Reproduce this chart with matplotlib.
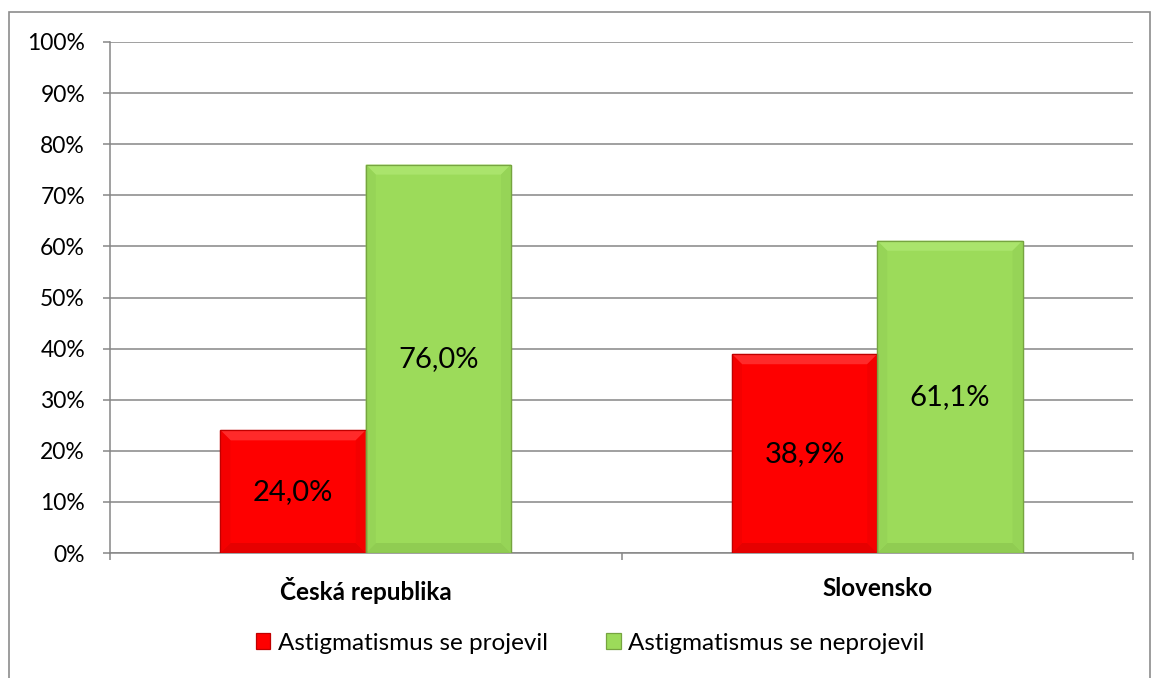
import matplotlib
matplotlib.use("Agg")
import matplotlib.pyplot as plt
from matplotlib.patches import Rectangle, Polygon
from matplotlib.ticker import FuncFormatter
import numpy as np

categories = ["Česká republika", "Slovensko"]
series_names = ["Astigmatismus se projevil", "Astigmatismus se neprojevil"]
projevil = [24.0, 38.9]
neprojevil = [76.0, 61.1]
y_ticks = [0, 10, 20, 30, 40, 50, 60, 70, 80, 90, 100]

FONT = "Lato"
plt.rcParams["font.family"] = [FONT, "DejaVu Sans"]

W, H = 1152, 678
fig = plt.figure(figsize=(W / 100, H / 100), dpi=100)

# outer chart border
fig.patches.append(Rectangle((9 / W, -0.05), (1150 - 9) / W, 1 - 12 / H + 0.05,
                             transform=fig.transFigure, fill=False,
                             edgecolor="#8c8c8c", lw=1.2))

ax_w_px, ax_h_px = 1133 - 110, 553 - 42
ax = fig.add_axes([110 / W, 1 - 553 / H, ax_w_px / W, ax_h_px / H])

x = np.arange(len(categories))
bw = 0.284
styles = [
    dict(face="#fe0000", edge="#c00000", top="#ff2a2a", bottom="#e60000", side="#f40000"),
    dict(face="#9cdb5a", edge="#76a440", top="#aae46c", bottom="#90cc52", side="#96d457"),
]

ax.set_xlim(-0.5, 1.5)
ax.set_ylim(0, 100)

bars_all = []
for i, (vals, st) in enumerate(zip((projevil, neprojevil), styles)):
    offs = -bw / 2 if i == 0 else bw / 2
    b = ax.bar(x + offs, vals, bw, color=st["face"], edgecolor=st["edge"], lw=0.9,
               label=series_names[i], zorder=3)
    bars_all.append(b)
    # bevel effect
    bx = 10 / ax_w_px * 2.0
    by = 10 / ax_h_px * 100.0
    for rect in b:
        x0, w = rect.get_x(), rect.get_width()
        h = rect.get_height()
        x1 = x0 + w
        polys = [
            ([(x0, h), (x1, h), (x1 - bx, h - by), (x0 + bx, h - by)], st["top"]),
            ([(x0, 0), (x1, 0), (x1 - bx, by), (x0 + bx, by)], st["bottom"]),
            ([(x0, 0), (x0, h), (x0 + bx, h - by), (x0 + bx, by)], st["side"]),
            ([(x1, 0), (x1, h), (x1 - bx, h - by), (x1 - bx, by)], st["side"]),
        ]
        for pts, c in polys:
            ax.add_patch(Polygon(pts, closed=True, facecolor=c, edgecolor="none", zorder=3.1))
        ax.add_patch(Rectangle((x0, 0), w, h, fill=False, edgecolor=st["edge"], lw=0.9, zorder=3.2))
    for rect, v in zip(b, vals):
        ax.text(rect.get_x() + rect.get_width() / 2, v / 2,
                f"{v:.1f}%".replace(".", ","), ha="center", va="center",
                fontsize=21, color="black", zorder=4)

ax.set_yticks(y_ticks)
ax.yaxis.set_major_formatter(FuncFormatter(lambda v, p: f"{int(v)}%"))
ax.grid(axis="y", color="#868686", lw=1.1, zorder=0)
for s in ["top", "right"]:
    ax.spines[s].set_visible(False)
for s in ["left", "bottom"]:
    ax.spines[s].set_color("#868686")
    ax.spines[s].set_linewidth(1.1)

ax.tick_params(axis="y", length=5, width=1.1, color="#868686", pad=13,
               labelsize=16.5)
ax.set_xticks(x)
ax.set_xticklabels(categories, fontsize=17.5, fontweight="bold")
ax.tick_params(axis="x", which="major", length=0, pad=17)
ax.set_xticks([-0.5, 0.5, 1.5], minor=True)
ax.tick_params(axis="x", which="minor", length=5, width=1.1, color="#868686")

leg = fig.legend(handles=bars_all, labels=series_names, loc="center",
                 bbox_to_anchor=(590 / W, 1 - 643 / H), ncol=2, frameon=False,
                 fontsize=17.5, handlelength=0.6, handleheight=0.6,
                 handletextpad=0.3, columnspacing=2.4)

fig.savefig("out.png", dpi=100)
